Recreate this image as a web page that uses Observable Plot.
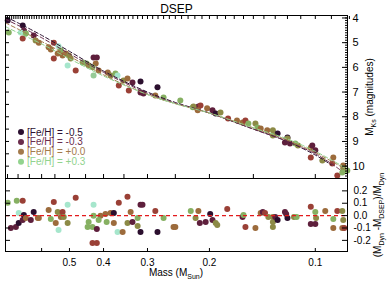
<!DOCTYPE html>
<html><head><meta charset="utf-8">
<script src="https://cdn.jsdelivr.net/npm/d3@7"></script>
<script src="https://cdn.jsdelivr.net/npm/@observablehq/plot@0.6"></script>
<style>
body{margin:0;background:#fff;font-family:"Liberation Sans",Arial,sans-serif;}
#chart{position:relative;width:390px;height:293px;overflow:hidden;}
#chart svg{display:block;}
</style></head><body><div id="chart"></div>
<script>
// ---- data: top panel (mass in M_sun, M_Ks, [Fe/H]) ----
const massTop = [0.749,0.679,0.674,0.688,0.665,0.744,0.632,0.679,0.624,0.611,0.573,0.554,0.537,0.565,0.529,0.554,0.540,0.523,0.512,0.502,0.506,0.480,0.496,0.459,0.447,0.441,0.427,0.418,0.421,0.430,0.427,0.413,0.389,0.382,0.370,0.365,0.362,0.351,0.342,0.331,0.339,0.314,0.314,0.308,0.285,0.281,0.270,0.242,0.223,0.215,0.222,0.212,0.216,0.203,0.196,0.192,0.186,0.177,0.167,0.161,0.158,0.155,0.148,0.146,0.143,0.137,0.132,0.128,0.132,0.120,0.120,0.122,0.118,0.114,0.112,0.103,0.102,0.100,0.103,0.0955,0.0889,0.0895,0.0866,0.0833,0.0833,0.0838,0.0811];
const mksTop = [4.10,4.30,4.51,4.59,4.63,4.59,4.71,4.83,4.91,5.00,5.19,5.00,5.15,5.28,5.32,5.64,5.44,5.52,5.44,5.52,5.92,6.13,5.64,5.80,5.84,5.92,5.60,5.60,5.84,6.00,6.33,6.13,6.21,6.33,6.25,6.33,6.73,6.53,6.45,6.61,6.94,6.57,7.02,7.06,7.14,6.81,7.22,7.34,7.62,7.58,7.58,7.54,7.74,7.66,7.74,7.87,7.83,8.07,8.15,8.23,8.15,8.27,8.27,8.44,8.48,8.55,8.55,8.68,8.76,8.84,8.88,9.04,9.08,9.08,9.16,9.24,9.16,9.36,9.65,9.77,9.65,9.89,10.38,9.97,10.09,10.26,10.18];
const fehTop = [-0.5,-0.5,-0.35,0.4,0.2,0.2,-0.35,-0.2,0.1,-0.05,-0.05,-0.2,0.4,-0.05,0.2,-0.2,-0.05,-0.05,-0.05,0.1,0.4,-0.2,0.1,0.2,0.2,0.1,-0.35,-0.35,-0.05,0.2,0.3,-0.05,-0.05,0.1,0.2,0.4,-0.2,0.1,-0.05,-0.35,-0.2,-0.5,-0.35,-0.35,-0.05,-0.5,0.2,0.2,0.2,-0.35,0.1,-0.2,-0.05,-0.05,-0.35,-0.5,0.1,-0.2,-0.05,-0.05,-0.2,0.2,0.1,0.2,-0.05,-0.05,0.1,-0.5,0.1,-0.5,0.1,-0.35,-0.35,0.2,0.1,-0.05,-0.35,-0.35,-0.2,0.1,-0.05,-0.2,-0.2,-0.05,0.1,0.2,0.2];

// ---- data: residual panel ((M_dyn - M_DSEP)/M_dyn) ----
const massRes = [0.749,0.734,0.710,0.706,0.697,0.697,0.679,0.679,0.674,0.665,0.644,0.632,0.615,0.611,0.573,0.565,0.554,0.547,0.540,0.537,0.529,0.523,0.519,0.506,0.506,0.480,0.444,0.441,0.430,0.427,0.427,0.418,0.408,0.413,0.395,0.392,0.382,0.374,0.374,0.365,0.362,0.353,0.342,0.342,0.335,0.331,0.320,0.320,0.314,0.310,0.314,0.285,0.281,0.270,0.253,0.250,0.226,0.219,0.213,0.430,0.418,0.215,0.205,0.199,0.196,0.192,0.190,0.178,0.161,0.160,0.158,0.148,0.143,0.141,0.139,0.136,0.132,0.132,0.132,0.130,0.128,0.122,0.121,0.120,0.115,0.113,0.103,0.103,0.100,0.100,0.0995,0.0937,0.0889,0.0866,0.0889,0.0838,0.0833,0.0838,0.0827];
const resVals = [0.103,-0.100,-0.092,0.120,-0.059,0.022,0.120,-0.035,0.006,-0.019,-0.035,0.030,-0.019,-0.019,0.046,-0.027,0.111,-0.059,0.030,-0.116,-0.011,0.030,-0.011,0.087,-0.059,0.144,-0.092,-0.051,-0.092,0.087,-0.002,-0.108,-0.002,-0.035,0.014,-0.051,0.022,0.022,-0.059,-0.133,0.103,-0.133,-0.059,0.152,0.030,-0.051,-0.019,-0.084,0.087,0.087,-0.133,0.038,-0.133,-0.019,-0.092,-0.092,0.038,-0.019,-0.059,-0.222,-0.222,0.038,-0.051,0.014,-0.035,-0.059,-0.076,0.054,-0.011,0.006,-0.092,-0.100,0.022,0.030,0.022,-0.011,-0.011,-0.051,-0.092,-0.011,-0.035,0.030,0.014,-0.019,-0.011,-0.011,0.071,-0.067,-0.067,0.030,-0.019,0.038,-0.100,0.038,-0.027,0.038,-0.035,-0.100,-0.100];
const fehRes = [0.2,-0.35,-0.35,0.2,-0.5,0.4,-0.2,-0.35,-0.5,-0.05,-0.35,-0.5,-0.05,-0.05,-0.05,0.2,-0.2,-0.05,0.1,0.4,-0.05,-0.2,0.1,0.4,0.1,-0.2,0.2,0.2,0.2,0.4,0.2,-0.35,-0.05,0.2,-0.05,0.2,-0.05,-0.5,-0.05,0.4,-0.2,-0.05,0.1,-0.2,-0.05,-0.35,0.2,0.1,-0.35,-0.35,-0.5,-0.2,-0.5,0.2,-0.05,-0.05,0.2,0.1,-0.35,-0.2,-0.2,-0.05,-0.35,-0.5,-0.35,0.1,0.1,-0.2,-0.35,0.2,-0.2,-0.05,-0.05,-0.35,-0.2,0.1,0.1,0.1,0.1,-0.35,-0.5,-0.35,-0.35,-0.5,0.1,0.2,-0.2,-0.35,-0.35,0.2,0.1,-0.05,-0.05,-0.2,0.2,0.1,0.1,-0.05,-0.2];

// ---- DSEP isochrones (dashed lines) ----
const isoMass = [0.76,0.70,0.60,0.50,0.40,0.30,0.25,0.20,0.15,0.12,0.10,0.09,0.085,0.081];
const isoMks = {
  "-0.5": [3.95,4.20,4.70,5.35,6.15,7.00,7.42,7.85,8.50,9.00,9.55,9.95,NaN,NaN],
  "-0.3": [4.05,4.30,4.80,5.45,6.20,7.05,7.45,7.85,8.50,9.00,9.50,9.90,10.15,NaN],
  "0.0":  [4.20,4.45,4.95,5.55,6.30,7.10,7.47,7.85,8.45,8.95,9.45,9.80,10.00,10.20],
  "0.3":  [4.35,4.60,5.05,5.65,6.35,7.10,7.47,7.85,8.45,8.90,9.40,9.75,9.95,10.15]
};
const isoKeys = ["-0.5","-0.3","0.0","0.3"];
const isoColors = ["#2b1030","#6b2d4c","#a37a4c","#92d38e"];
const legendLabels = ["[Fe/H] = -0.5","[Fe/H] = -0.3","[Fe/H] = +0.0","[Fe/H] = +0.3"];

const xTicksMajor = [0.6,0.5,0.4,0.3,0.2,0.1];
const yTicksTop = [4,5,6,7,8,9,10];
const yTicksRes = [-0.2,-0.1,0.0,0.1,0.2];

const color = d3.scaleLinear()
  .domain([-0.5,-0.35,-0.2,-0.05,0.1,0.2,0.4])
  .range(["#2b0f2e","#5e1f3c","#9a4036","#9c6b3c","#8c8a46","#86b062","#a6e6cc"]);

const topData = massTop.map((m,i)=>({mass:m, mks:mksTop[i], feh:fehTop[i]}));
const resData = massRes.map((m,i)=>({mass:m, res:resVals[i], feh:fehRes[i]}));
const isoData = isoKeys.flatMap((k,j)=>isoMass.map((m,i)=>({mass:m, mks:isoMks[k][i], key:k})));

const xDomain = [0.76, 0.081];
const W = 390, mL = 5, mR = 43;
const font = {fontFamily:"Liberation Sans, Arial, sans-serif", fontSize:"10px", background:"white", color:"black", overflow:"visible"};
const r2 = v => Math.round(v*1000)/1000;
const minorTop = d3.range(8,77).map(v=>r2(v/100));
const minorBot = d3.range(2,16).map(v=>r2(v*0.05));
const minorMag = d3.range(39,106).map(v=>r2(v/10));
const halfMag = d3.range(8,22).map(v=>v/2);
const empty = () => "";

const topPlot = Plot.plot({
  width: W, height: 178, marginTop: 15, marginBottom: 0, marginLeft: mL, marginRight: mR,
  style: font,
  x: {type:"log", domain:xDomain, axis:null},
  y: {domain:[10.5,3.9], axis:null},
  marks: [
    Plot.dot(topData, {x:"mass", y:"mks", r:3, fill:d=>color(d.feh)}),
    ...isoKeys.map((k,j)=>Plot.line(isoData.filter(d=>d.key===k), {x:"mass", y:"mks", stroke:isoColors[j], strokeWidth:1, strokeDasharray:"4,2.5", curve:"catmull-rom"})),
    Plot.axisX(minorTop, {anchor:"top", tickSize:-3, tickFormat:empty, label:null}),
    Plot.axisX(minorBot, {anchor:"bottom", tickSize:-4, tickFormat:empty, label:null}),
    Plot.axisY(halfMag, {anchor:"left", tickSize:-4, tickFormat:empty, label:null}),
    Plot.axisY(minorMag, {anchor:"right", tickSize:-3, tickFormat:empty, label:null}),
    Plot.axisY(yTicksTop, {anchor:"right", tickSize:-6, tickPadding:11, tickFormat:d=>String(d), label:null, fontSize:11}),
    Plot.frame({stroke:"black"}),
    Plot.text(["DSEP"], {frameAnchor:"top", lineAnchor:"bottom", dy:-3, fontSize:12})
  ]
});

const botPlot = Plot.plot({
  width: W, height: 115, marginTop: 0, marginBottom: 42, marginLeft: mL, marginRight: mR,
  style: font,
  x: {type:"log", domain:xDomain, axis:null},
  y: {domain:[-0.29,0.30], axis:null},
  marks: [
    Plot.dot(resData, {x:"mass", y:"res", r:3, fill:d=>color(d.feh)}),
    Plot.ruleY([0], {stroke:"#e31a1c", strokeWidth:1.2, strokeDasharray:"4,3"}),
    Plot.axisX(xTicksMajor, {anchor:"bottom", tickSize:-3, tickPadding:10, tickFormat:d=>String(d), label:null}),
    Plot.axisY(yTicksRes, {anchor:"left", tickSize:-5, tickFormat:empty, label:null}),
    Plot.axisY(yTicksRes, {anchor:"right", tickSize:-6, tickPadding:12, tickFormat:d=>d.toFixed(1), label:null}),
    Plot.frame({stroke:"black"})
  ]
});

const chart = document.getElementById("chart");
chart.append(topPlot, botPlot);

// legend
const ts = d3.select(topPlot);
legendLabels.forEach((lab,i)=>{
  const cy = 132 + i*9.9;
  ts.append("circle").attr("cx",21).attr("cy",cy).attr("r",3).attr("fill",isoColors[i]);
  ts.append("text").attr("x",27).attr("y",cy).attr("dy","0.35em").attr("fill",isoColors[i])
    .attr("text-anchor","start").attr("font-size",10).text(lab);
});
// right label top
const lt = ts.append("text").attr("transform","translate(373,97) rotate(-90)").attr("text-anchor","middle").attr("font-size",10).attr("fill","black");
lt.append("tspan").text("M");
lt.append("tspan").attr("font-size",7).attr("dy",2.5).text("Ks");
lt.append("tspan").attr("dy",-2.5).text(" (magnitudes)");

const bs = d3.select(botPlot);
const lb = bs.append("text").attr("transform","translate(381,37) rotate(-90)").attr("text-anchor","middle").attr("font-size",10).attr("fill","black");
lb.append("tspan").text("(M");
lb.append("tspan").attr("font-size",7).attr("dy",2.5).text("Dyn");
lb.append("tspan").attr("dy",-2.5).text(" -M");
lb.append("tspan").attr("font-size",7).attr("dy",2.5).text("DSEP");
lb.append("tspan").attr("dy",-2.5).text(")/M");
lb.append("tspan").attr("font-size",7).attr("dy",2.5).text("Dyn");

const lx = bs.append("text").attr("x",176).attr("y",98).attr("text-anchor","middle").attr("font-size",10).attr("fill","black");
lx.append("tspan").text("Mass (M");
lx.append("tspan").attr("font-size",7).attr("dy",2.5).text("Sun");
lx.append("tspan").attr("dy",-2.5).text(")");
</script></body></html>
